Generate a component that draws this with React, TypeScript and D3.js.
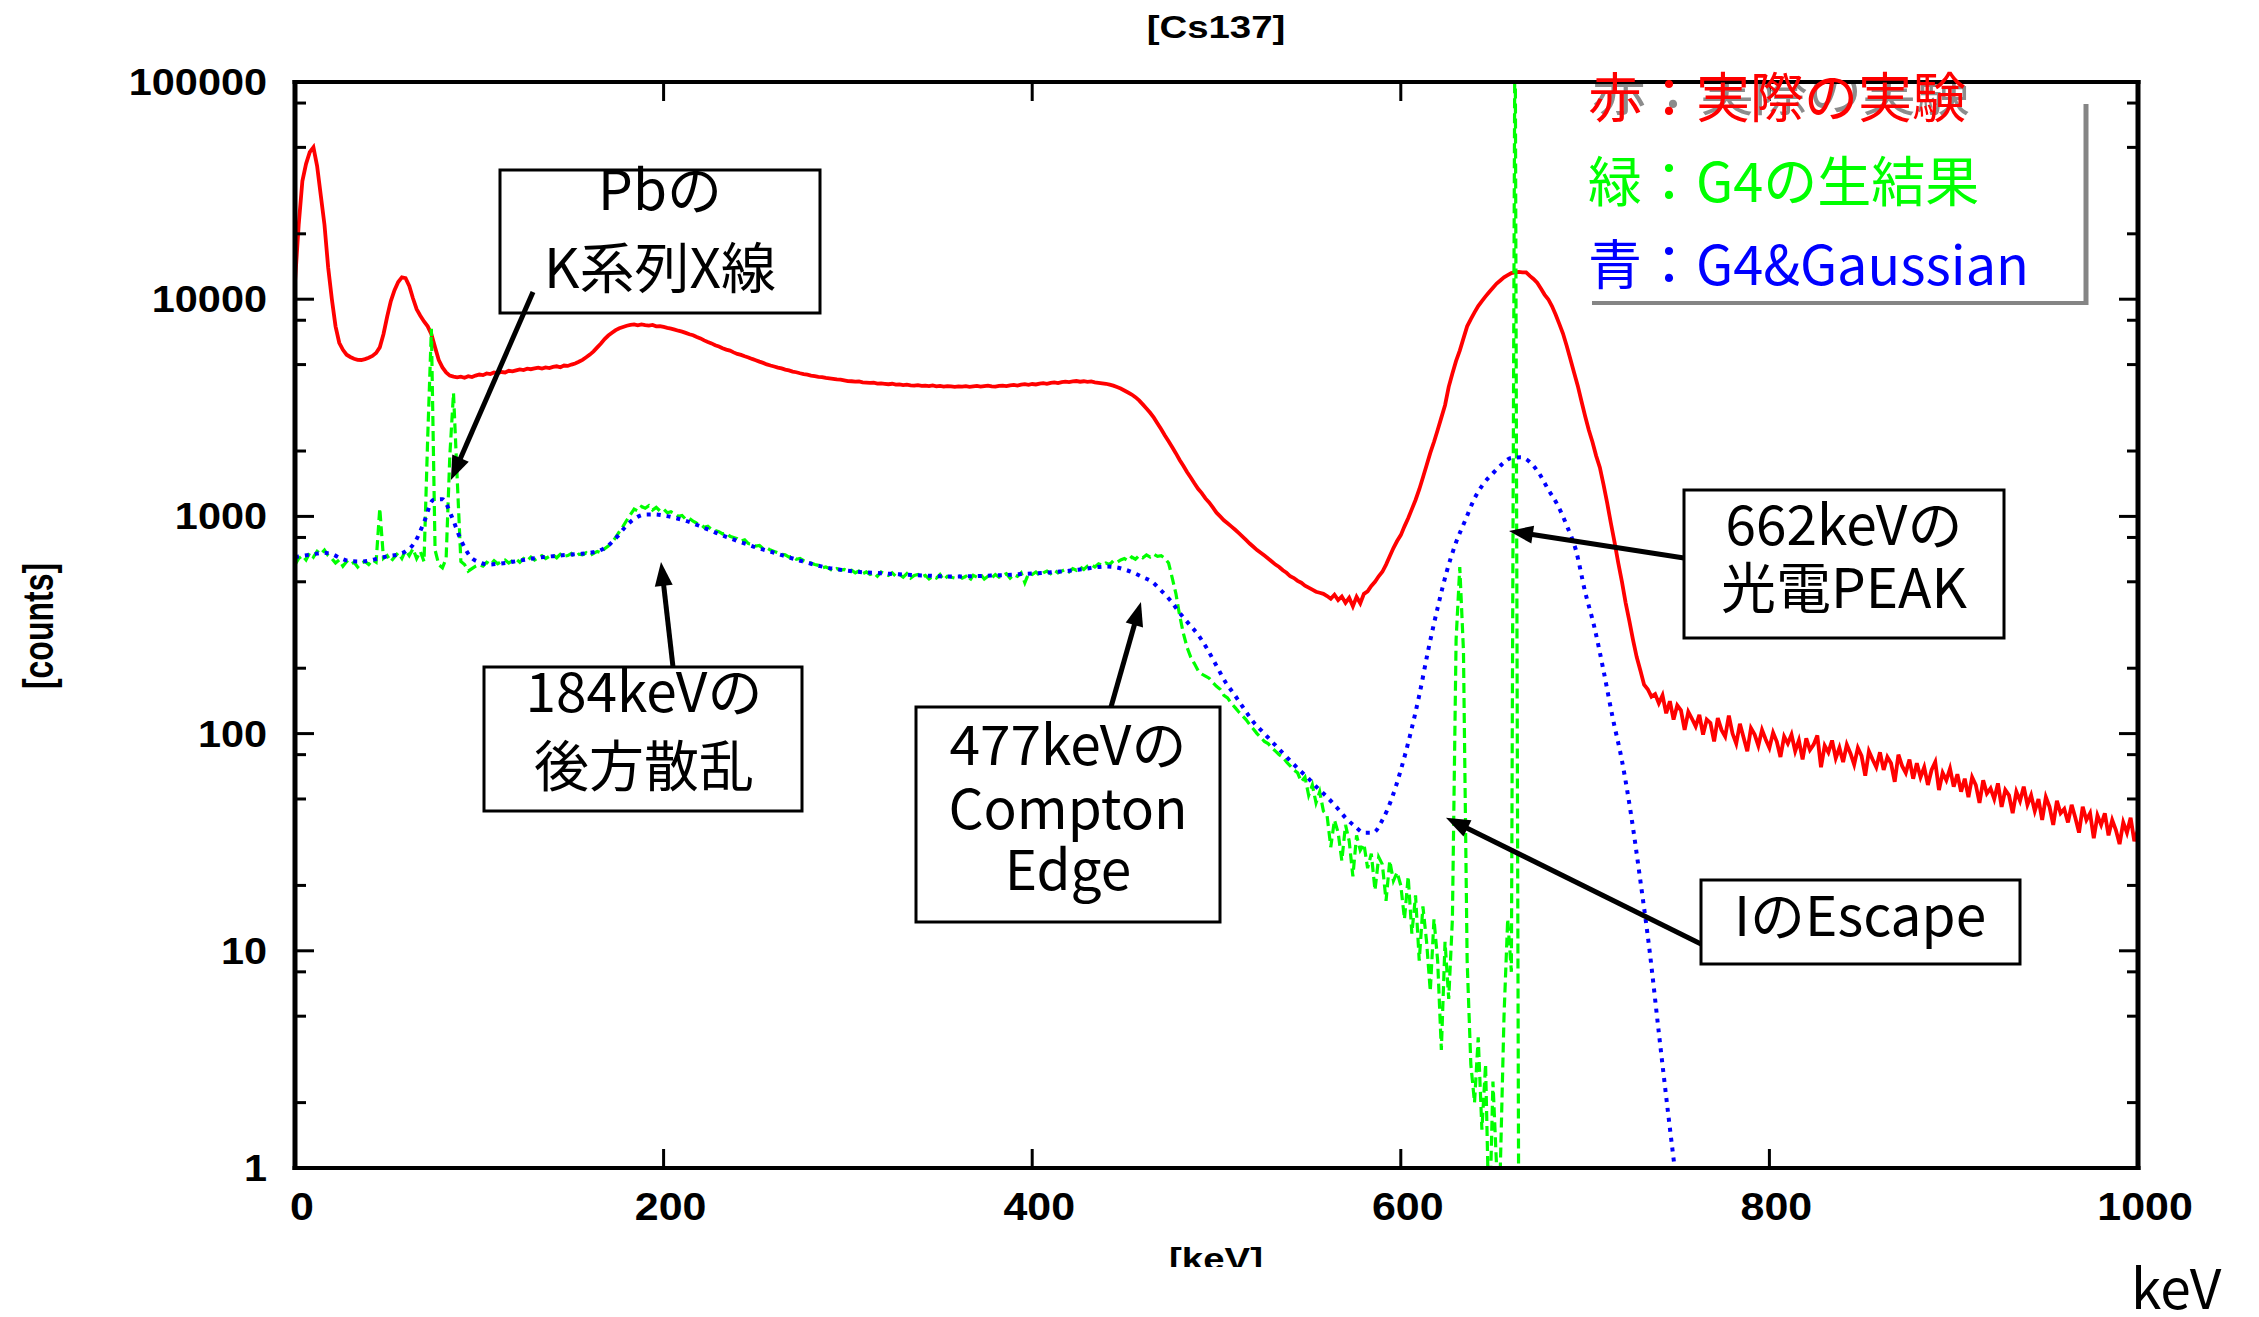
import React from 'react';
import * as d3 from 'd3';

// Spectrum of Cs137: measured data, raw Geant4 output and Geant4 folded with a Gaussian response.
const BIN_KEV = 2;

// Measured spectrum, counts per 2 keV bin from 0 keV to 1000 keV
const redCounts = [
  /*   0 */ 12000, 22000, 35000, 42000, 47500, 50000, 41000, 30000, 22000, 14000,
  /*  20 */ 10000, 7500, 6300, 5850, 5550, 5420, 5320, 5260, 5250, 5300,
  /*  40 */ 5380, 5480, 5650, 6000, 6900, 8300, 9800, 11000, 12000, 12600,
  /*  60 */ 12500, 11500, 10100, 9000, 8400, 7900, 7500, 6900, 6000, 5250,
  /*  80 */ 4850, 4600, 4450, 4400, 4370, 4400, 4350, 4420, 4380, 4450,
  /* 100 */ 4500, 4470, 4550, 4520, 4600, 4570, 4620, 4600, 4680, 4650,
  /* 120 */ 4700, 4750, 4720, 4790, 4760, 4800, 4840, 4790, 4850, 4820,
  /* 140 */ 4880, 4910, 4860, 4950, 4930, 5000, 5060, 5150, 5260, 5400,
  /* 160 */ 5560, 5750, 6000, 6250, 6550, 6800, 7000, 7200, 7350, 7450,
  /* 180 */ 7550, 7620, 7650, 7580, 7660, 7600, 7560, 7610, 7500, 7520,
  /* 200 */ 7450, 7380, 7320, 7240, 7160, 7090, 7000, 6900, 6820, 6700,
  /* 220 */ 6600, 6460, 6350, 6260, 6140, 6060, 5950, 5860, 5800, 5690,
  /* 240 */ 5600, 5540, 5460, 5390, 5310, 5240, 5160, 5090, 5010, 4950,
  /* 260 */ 4900, 4840, 4800, 4740, 4700, 4640, 4610, 4560, 4520, 4490,
  /* 280 */ 4450, 4420, 4390, 4380, 4340, 4320, 4300, 4270, 4260, 4230,
  /* 300 */ 4200, 4190, 4170, 4180, 4140, 4130, 4120, 4130, 4090, 4100,
  /* 320 */ 4080, 4060, 4080, 4040, 4050, 4020, 4040, 4010, 4000, 4020,
  /* 340 */ 3990, 4000, 3980, 4010, 3970, 3990, 3960, 3980, 3970, 3950,
  /* 360 */ 3970, 3960, 3980, 3950, 3970, 3990, 3960, 3980, 4000, 3970,
  /* 380 */ 3960, 3990, 4000, 3980, 4010, 4030, 4000, 4040, 4060, 4030,
  /* 400 */ 4070, 4050, 4090, 4110, 4080, 4120, 4140, 4110, 4150, 4170,
  /* 420 */ 4150, 4180, 4200, 4170, 4190, 4160, 4180, 4140, 4120, 4100,
  /* 440 */ 4080, 4040, 4000, 3940, 3880, 3800, 3720, 3640, 3540, 3420,
  /* 460 */ 3280, 3140, 3000, 2850, 2680, 2520, 2360, 2220, 2080, 1950,
  /* 480 */ 1820, 1710, 1600, 1510, 1420, 1340, 1280, 1210, 1160, 1100,
  /* 500 */ 1040, 1000, 960, 930, 900, 870, 840, 810, 780, 750,
  /* 520 */ 725, 700, 680, 660, 640, 620, 600, 585, 565, 550,
  /* 540 */ 530, 520, 505, 495, 480, 470, 460, 450, 445, 440,
  /* 560 */ 430, 418, 436, 412, 428, 400, 422, 386, 426, 398,
  /* 580 */ 440, 452, 478, 500, 530, 556, 600, 655, 715, 770,
  /* 600 */ 820, 900, 980, 1080, 1190, 1330, 1510, 1720, 1960, 2200,
  /* 620 */ 2500, 2850, 3250, 3950, 4550, 5200, 5800, 6600, 7500, 8100,
  /* 640 */ 8700, 9300, 9800, 10300, 10800, 11300, 11800, 12200, 12600, 12900,
  /* 660 */ 13200, 13300, 13350, 13300, 13300, 12800, 12400, 11900, 11200, 10500,
  /* 680 */ 10000, 9300, 8500, 7700, 6950, 6100, 5300, 4600, 4000, 3400,
  /* 700 */ 2900, 2500, 2200, 1900, 1680, 1400, 1150, 930, 760, 610,
  /* 720 */ 500, 400, 330, 270, 225, 195, 168, 160, 148, 152,
  /* 740 */ 138, 150, 124, 141, 116, 135, 128, 104, 126, 117,
  /* 760 */ 108, 122, 99, 116, 112, 92, 118, 104, 97, 121,
  /* 780 */ 100, 90, 111, 96, 83, 106, 99, 88, 104, 94,
  /* 800 */ 86, 101, 92, 78, 97, 90, 99, 83, 93, 76,
  /* 820 */ 95, 84, 89, 98, 70, 88, 82, 93, 77, 86,
  /* 840 */ 74, 89, 81, 72, 86, 79, 64, 83, 76, 70,
  /* 860 */ 82, 68, 78, 73, 60, 80, 71, 66, 76, 62,
  /* 880 */ 73, 63, 70, 58, 68, 74, 55, 66, 61, 69,
  /* 900 */ 57, 65, 54, 62, 51, 63, 58, 48, 61, 53,
  /* 920 */ 56, 50, 59, 46, 55, 52, 43, 54, 49, 57,
  /* 940 */ 47, 52, 44, 50, 40, 51, 46, 38, 49, 43,
  /* 960 */ 45, 39, 47, 41, 35, 46, 40, 43, 33, 42,
  /* 980 */ 38, 43, 34, 40, 36, 31, 39, 35, 41, 32,
  /* 1000 */ 36,
];

// Raw Geant4 output, counts per 2 keV bin from 0 keV to 666 keV (empty above)
const greenCounts = [
  /*   0 */ 600, 640, 660, 630, 680, 650, 690, 670, 700, 660,
  /*  20 */ 640, 610, 630, 590, 620, 600, 615, 585, 610, 620,
  /*  40 */ 600, 630, 615, 1090, 640, 660, 620, 650, 680, 640,
  /*  60 */ 700, 660, 710, 640, 690, 620, 2300, 7300, 700, 600,
  /*  80 */ 580, 640, 1900, 3700, 1500, 620, 600, 560, 575, 590,
  /* 100 */ 600, 590, 615, 600, 625, 605, 620, 630, 610, 625,
  /* 120 */ 635, 615, 640, 625, 650, 630, 645, 660, 640, 655,
  /* 140 */ 665, 645, 670, 655, 660, 675, 650, 670, 665, 680,
  /* 160 */ 660, 675, 690, 680, 710, 730, 760, 800, 850, 900,
  /* 180 */ 960, 1020, 1080, 1060, 1110, 1090, 1120, 1070, 1100, 1060,
  /* 200 */ 1080, 1040, 1050, 1030, 1000, 1010, 970, 980, 950, 930,
  /* 220 */ 920, 890, 900, 870, 860, 850, 830, 840, 810, 800,
  /* 240 */ 790, 770, 780, 750, 745, 730, 735, 710, 715, 700,
  /* 260 */ 690, 680, 670, 665, 650, 655, 635, 640, 625, 615,
  /* 280 */ 610, 600, 595, 580, 585, 575, 560, 575, 565, 570,
  /* 300 */ 560, 565, 550, 560, 545, 555, 540, 550, 530, 555,
  /* 320 */ 545, 535, 550, 530, 540, 525, 545, 520, 535, 540,
  /* 340 */ 525, 535, 515, 530, 520, 540, 510, 530, 525, 520,
  /* 360 */ 535, 520, 530, 505, 535, 525, 540, 515, 530, 520,
  /* 380 */ 540, 525, 535, 545, 520, 540, 530, 550, 495, 545,
  /* 400 */ 540, 555, 535, 550, 560, 545, 565, 550, 560, 570,
  /* 420 */ 555, 575, 565, 585, 570, 590, 600, 585, 605, 595,
  /* 440 */ 610, 600, 625, 615, 630, 640, 625, 650, 635, 660,
  /* 460 */ 645, 665, 650, 670, 655, 660, 640, 610, 520, 440,
  /* 480 */ 350, 290, 250, 225, 210, 195, 188, 184, 180, 172,
  /* 500 */ 165, 160, 150, 146, 138, 132, 126, 121, 116, 110,
  /* 520 */ 105, 100, 96, 92, 90, 86, 83, 80, 78, 74,
  /* 540 */ 71, 68, 66, 60, 63, 52, 58, 48, 54, 44,
  /* 560 */ 42, 30, 40, 35, 26, 38, 32, 22, 34, 29,
  /* 580 */ 31, 24, 28, 19, 27, 25, 17, 26, 21, 23,
  /* 600 */ 20, 14, 22, 12, 18, 9, 16, 11, 6.5, 14,
  /* 620 */ 9, 3.5, 11, 6, 14, 270, 585, 240, 9, 3,
  /* 640 */ 2, 4, 1.5, 3, 0, 2.5, 1, 1, 5, 14,
  /* 660 */ 8, 300000, 0, 0,
];

// Geant4 folded with a Gaussian resolution, counts on a 5 keV grid from 0 keV to 750 keV
const BLUE_STEP_KEV = 5;
const blueCounts = [
  /*   0 */ 650, 660, 670, 680, 670, 640, 622, 620, 625, 640,
  /*  50 */ 655, 665, 690, 760, 940, 1190, 1200, 1000, 780, 655,
  /* 100 */ 615, 600, 605, 612, 622, 632, 642, 650, 656, 662,
  /* 150 */ 667, 672, 680, 695, 735, 810, 910, 985, 1020, 1022,
  /* 200 */ 1010, 990, 965, 935, 900, 865, 830, 800, 770, 745,
  /* 250 */ 720, 700, 680, 660, 640, 622, 605, 590, 578, 570,
  /* 300 */ 562, 556, 552, 549, 546, 543, 540, 537, 535, 533,
  /* 350 */ 530, 529, 529, 530, 531, 533, 535, 537, 540, 543,
  /* 400 */ 546, 549, 553, 557, 562, 568, 576, 584, 588, 584,
  /* 450 */ 570, 550, 525, 500, 455, 410, 360, 320, 285, 245,
  /* 500 */ 205, 172, 150, 130, 113, 102, 92, 83, 75, 68,
  /* 550 */ 62, 56, 51, 46, 41, 37.5, 35, 35, 40, 50,
  /* 600 */ 68, 98, 150, 245, 380, 560, 760, 960, 1210, 1420,
  /* 650 */ 1580, 1740, 1860, 1870, 1780, 1580, 1330, 1130, 910, 700,
  /* 700 */ 450, 310, 195, 118, 75, 42, 21, 10, 4.2, 1.8,
  /* 750 */ 0.8,
];

const xTicks = [0, 200, 400, 600, 800, 1000];
const yTicks = [1, 10, 100, 1000, 10000, 100000];
const yTickLabels = ['1', '10', '100', '1000', '10000', '100000'];
const minorMantissas = [2, 5, 8];

const legendTexts = ['赤：実際の実験', '緑：G4の生結果', '青：G4&Gaussian'];
const legendColors = ['#ff0000', '#00ff00', '#0000ff'];

// Callouts: text lines and the spectrum feature (energy, counts) each arrow points at
const calloutLines = [
  ['Pbの', 'K系列X線'],
  ['184keVの', '後方散乱'],
  ['477keVの', 'Compton', 'Edge'],
  ['662keVの', '光電PEAK'],
  ['IのEscape'],
];
const calloutTipKeV = [84.6, 198.6, 459, 658.7, 624.5];
const calloutTipCounts = [1470, 617, 404, 857, 41];

const W = 2259;
const H = 1317;
const LEFT = 295;
const RIGHT = 2138;
const TOP = 82;
const BOTTOM = 1168;

// Box geometry for each callout: rect, text centre, baselines, arrow tail
const calloutBoxes = [
  { x: 500, y: 170, w: 320, h: 143, cx: 660, base: [210, 288], tail: [533, 292] },
  { x: 484, y: 667, w: 318, h: 144, cx: 644, base: [712, 786], tail: [673, 667] },
  { x: 916, y: 707, w: 304, h: 215, cx: 1068, base: [765, 829, 890], tail: [1111, 707] },
  { x: 1684, y: 490, w: 320, h: 148, cx: 1844, base: [545, 608], tail: [1684, 558] },
  { x: 1701, y: 880, w: 319, h: 84, cx: 1860, base: [936], tail: [1701, 944] },
];

const GNU_FONT = '"Liberation Sans", Arial, Helvetica, sans-serif';
const JP_FONT = '"Noto Sans CJK JP", "Noto Sans", sans-serif';

function Arrow({ from, to }: { from: [number, number]; to: [number, number] }) {
  const dx = to[0] - from[0];
  const dy = to[1] - from[1];
  const len = Math.hypot(dx, dy);
  const ux = dx / len;
  const uy = dy / len;
  const headLen = 24;
  const headHalf = 9;
  const bx = to[0] - ux * headLen;
  const by = to[1] - uy * headLen;
  const pts = [
    [to[0], to[1]],
    [bx - uy * headHalf, by + ux * headHalf],
    [bx + uy * headHalf, by - ux * headHalf],
  ];
  return (
    <g>
      <line x1={from[0]} y1={from[1]} x2={bx + ux * 2} y2={by + uy * 2} stroke="#000" strokeWidth={5} />
      <polygon points={pts.map((p) => p.join(',')).join(' ')} fill="#000" />
    </g>
  );
}

export default function App() {
  const x = d3.scaleLinear().domain([0, 1000]).range([LEFT, RIGHT]);
  const y = d3.scaleLog().domain([1, 100000]).range([BOTTOM, TOP]);
  const floor = 0.5;

  const line = d3
    .line<[number, number]>()
    .x((d) => x(d[0]))
    .y((d) => y(Math.max(d[1], floor)));
  const smooth = d3
    .line<[number, number]>()
    .x((d) => x(d[0]))
    .y((d) => y(Math.max(d[1], floor)))
    .curve(d3.curveMonotoneX);

  const redPts = redCounts.map((c, i) => [i * BIN_KEV, c] as [number, number]);
  const greenPts = greenCounts.map((c, i) => [i * BIN_KEV, c] as [number, number]);
  const bluePts = blueCounts.map((c, i) => [i * BLUE_STEP_KEV, c] as [number, number]);

  const minorTicks: number[] = [];
  for (let d = 0; d < 5; d++) {
    for (const m of minorMantissas) minorTicks.push(m * Math.pow(10, d));
  }

  const majorLen = 19;
  const minorLen = 11;

  return (
    <svg
      width={W}
      height={H}
      viewBox={`0 0 ${W} ${H}`}
      style={{ position: 'absolute', left: 0, top: 0, background: '#fff' }}
    >
      <defs>
        <clipPath id="plotClip">
          <rect x={LEFT} y={TOP} width={RIGHT - LEFT} height={BOTTOM - TOP} />
        </clipPath>
        <clipPath id="xTitleClip">
          <rect x={0} y={1230} width={W} height={37} />
        </clipPath>
        <clipPath id="legendGhostClip">
          <rect x={1500} y={TOP + 2} width={700} height={60} />
        </clipPath>
      </defs>
      <rect x={0} y={0} width={W} height={H} fill="#fff" />

      {/* title */}
      <text
        transform="translate(1216,38) scale(1.2,1)"
        textAnchor="middle"
        fontFamily={GNU_FONT}
        fontWeight="bold"
        fontSize={32}
      >
        [Cs137]
      </text>

      {/* spectra */}
      <g clipPath="url(#plotClip)">
        <path d={line(redPts) || ''} fill="none" stroke="#ff0000" strokeWidth={3.8} strokeLinejoin="miter" />
        <path
          d={line(greenPts) || ''}
          fill="none"
          stroke="#00ff00"
          strokeWidth={3.2}
          strokeDasharray="10,5"
        />
        <path
          d={smooth(bluePts) || ''}
          fill="none"
          stroke="#0000ff"
          strokeWidth={4}
          strokeDasharray="4,6"
        />
      </g>

      {/* ticks on all four sides */}
      <g stroke="#000" strokeWidth={3}>
        {xTicks.slice(1, -1).map((t) => (
          <g key={`xt${t}`}>
            <line x1={x(t)} x2={x(t)} y1={BOTTOM} y2={BOTTOM - majorLen} />
            <line x1={x(t)} x2={x(t)} y1={TOP} y2={TOP + majorLen} />
          </g>
        ))}
        {yTicks.slice(1, -1).map((t) => (
          <g key={`yt${t}`}>
            <line x1={LEFT} x2={LEFT + majorLen} y1={y(t)} y2={y(t)} />
            <line x1={RIGHT} x2={RIGHT - majorLen} y1={y(t)} y2={y(t)} />
          </g>
        ))}
        {minorTicks.map((t) => (
          <g key={`ym${t}`}>
            <line x1={LEFT} x2={LEFT + minorLen} y1={y(t)} y2={y(t)} />
            <line x1={RIGHT} x2={RIGHT - minorLen} y1={y(t)} y2={y(t)} />
          </g>
        ))}
      </g>

      {/* frame */}
      <g stroke="#000">
        <line x1={LEFT - 2.5} x2={RIGHT + 2.5} y1={TOP} y2={TOP} strokeWidth={4} />
        <line x1={LEFT - 2.5} x2={RIGHT + 2.5} y1={BOTTOM} y2={BOTTOM} strokeWidth={4} />
        <line x1={LEFT} x2={LEFT} y1={TOP - 2} y2={BOTTOM + 2} strokeWidth={5} />
        <line x1={RIGHT} x2={RIGHT} y1={TOP - 2} y2={BOTTOM + 2} strokeWidth={5} />
      </g>

      {/* y tick labels */}
      {yTicks.map((t, i) => (
        <text
          key={`yl${t}`}
          transform={`translate(267,${y(t) + 13}) scale(1.12,1)`}
          textAnchor="end"
          fontFamily={GNU_FONT}
          fontWeight="bold"
          fontSize={37}
        >
          {yTickLabels[i]}
        </text>
      ))}

      {/* x tick labels */}
      {xTicks.map((t) => (
        <text
          key={`xl${t}`}
          transform={`translate(${x(t) + 7},1220) scale(1.13,1)`}
          textAnchor="middle"
          fontFamily={GNU_FONT}
          fontWeight="bold"
          fontSize={38}
        >
          {t}
        </text>
      ))}

      {/* axis titles */}
      <g clipPath="url(#xTitleClip)">
        <text
          transform="translate(1216,1270) scale(1.2,1)"
          textAnchor="middle"
          fontFamily={GNU_FONT}
          fontWeight="bold"
          fontSize={32}
        >
          [keV]
        </text>
      </g>
      <text
        transform="translate(53,626) scale(1.35,1) rotate(-90)"
        textAnchor="middle"
        fontFamily={GNU_FONT}
        fontWeight="bold"
        fontSize={32}
      >
        [counts]
      </text>
      <text x={2131} y={1309} fontFamily={JP_FONT} fontSize={55} fill="#000">
        keV
      </text>

      {/* legend */}
      <g clipPath="url(#legendGhostClip)">
        <text x={1592} y={111} fontFamily={JP_FONT} fontSize={54} fill="#8c8c8c">
          {legendTexts[0]}
        </text>
      </g>
      {legendTexts.map((t, i) => (
        <text key={t} x={1588} y={118 + i * 83.5} fontFamily={JP_FONT} fontSize={54} fill={legendColors[i]}>
          {t}
        </text>
      ))}
      <g stroke="#858585">
        <line x1={2086} x2={2086} y1={104} y2={305} strokeWidth={5} />
        <line x1={1592} x2={2088} y1={303} y2={303} strokeWidth={4} />
      </g>

      {/* callouts */}
      {calloutBoxes.map((b, i) => (
        <g key={`c${i}`}>
          <rect x={b.x} y={b.y} width={b.w} height={b.h} fill="#fff" stroke="#000" strokeWidth={3} />
          {calloutLines[i].map((s, j) => (
            <text
              key={s}
              x={b.cx}
              y={b.base[j]}
              textAnchor="middle"
              fontFamily={JP_FONT}
              fontSize={55}
              fill="#000"
            >
              {s}
            </text>
          ))}
          <Arrow
            from={b.tail as [number, number]}
            to={[x(calloutTipKeV[i]), y(calloutTipCounts[i])]}
          />
        </g>
      ))}
    </svg>
  );
}
